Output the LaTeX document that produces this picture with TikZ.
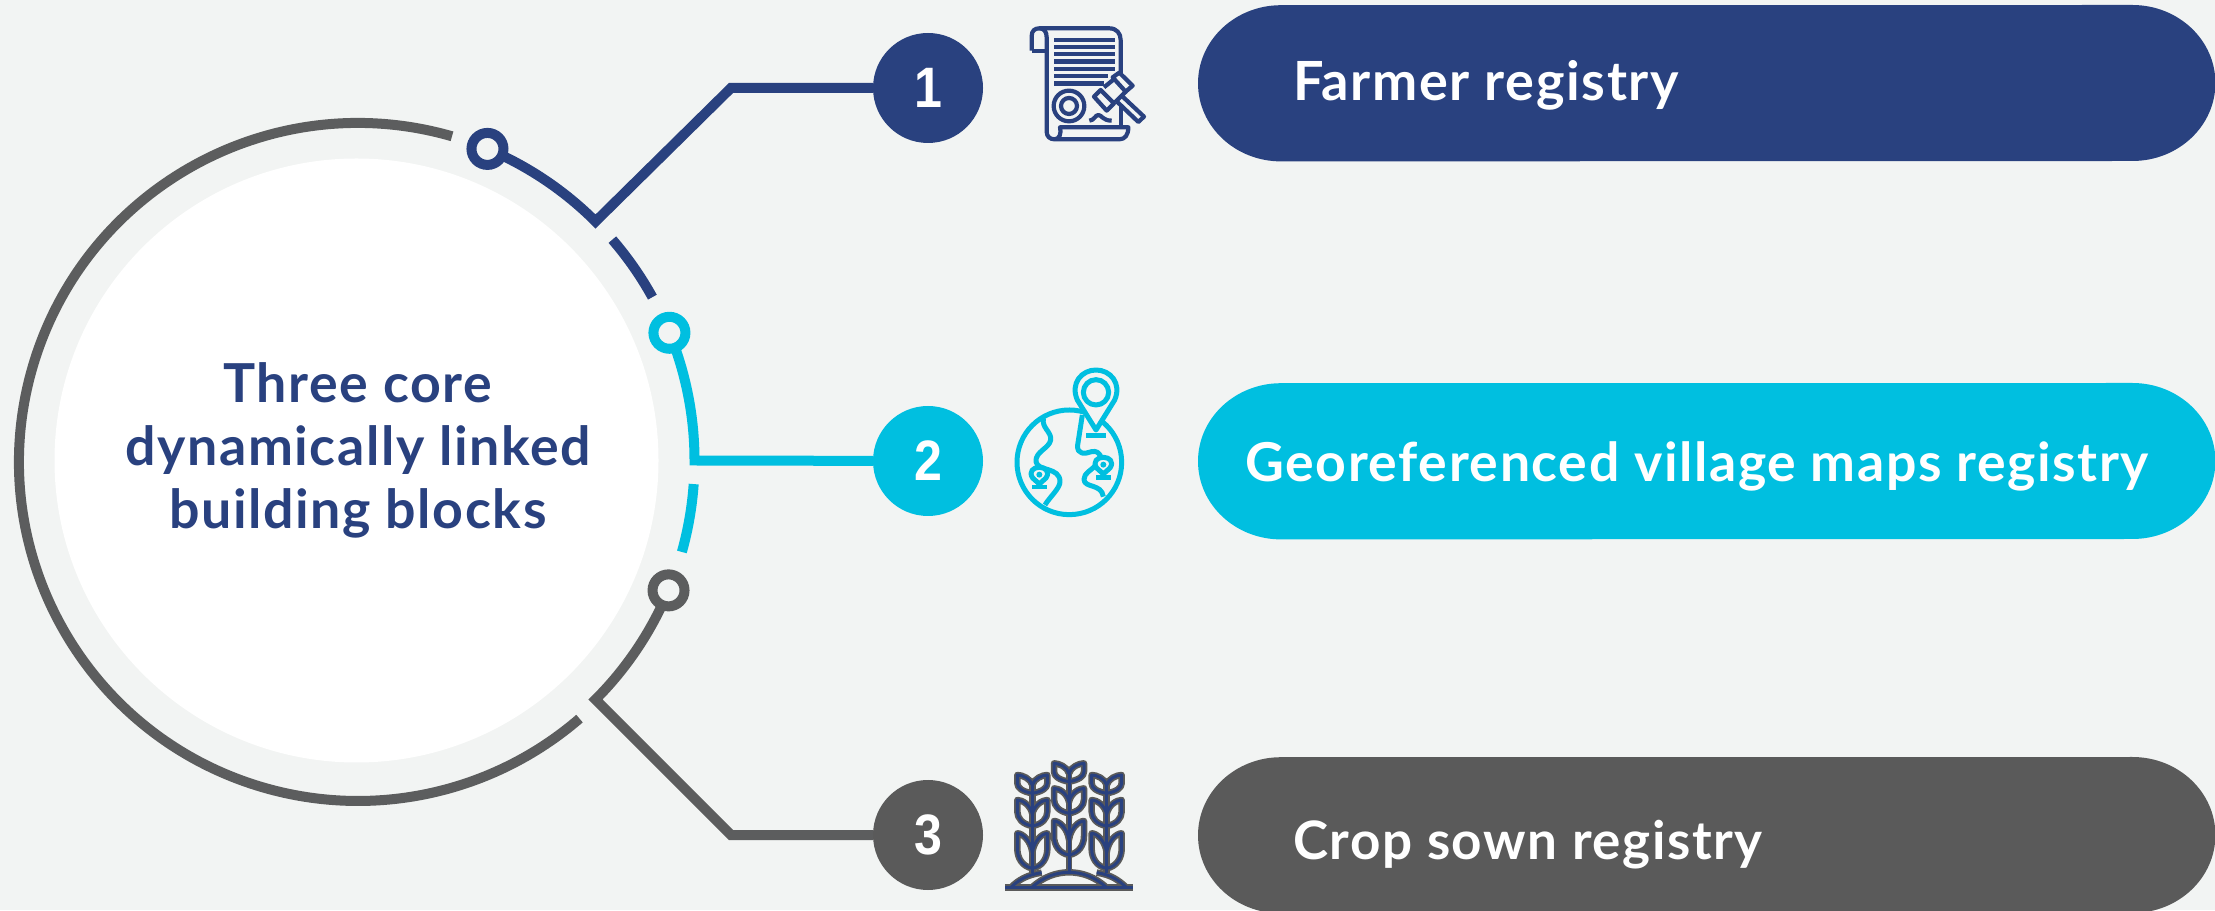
\documentclass[tikz,border=0pt]{standalone}
\usepackage{fontspec}
\usetikzlibrary{calc}
\setmainfont{Lato}
\newfontfamily\headfont[LetterSpace=3]{Lato}
\newfontfamily\numfont{Liberation Sans}
\definecolor{bgc}{HTML}{F2F4F3}
\definecolor{navy}{HTML}{29417F}
\definecolor{cyanc}{HTML}{00BFE0}
\definecolor{grayc}{HTML}{5A5A5A}
\definecolor{ringc}{HTML}{5C5D5E}
\pgfdeclarelayer{bgl}\pgfdeclarelayer{conn}
\pgfsetlayers{bgl,conn,main}
\tikzset{
  conn/.style={line width=10pt,miter limit=10},
  arcseg/.style={line width=10pt},
  ringdot/.style={circle,draw=#1,fill=bgc,line width=10pt,minimum size=32pt,inner sep=0pt},
  numdot/.style={circle,fill=#1,text=white,minimum size=110pt,inner sep=0pt,font=\numfont\bfseries\fontsize{57}{57}\selectfont},
  pillbox/.style={rectangle,minimum width=1017pt,minimum height=156pt,inner sep=0pt},
  pilltext/.style={anchor=base west,text=white,inner sep=0pt,font=\headfont\bfseries\fontsize{#1}{#1}\selectfont},
  icona/.style={draw=navy,line width=4.2pt,line join=round},
  iconb/.style={draw=cyanc,line width=5pt,line join=round},
}
% pill outline from a named box: colour, node name
\newcommand\pillfill[2]{%
  \fill[#1] (#2.west) arc[start angle=180,end angle=90,x radius=83,y radius=78]
    -- ($(#2.north east)+(-83,0)$) arc[start angle=90,end angle=-90,x radius=83,y radius=78]
    -- ($(#2.south west)+(83,0)$) arc[start angle=270,end angle=180,x radius=83,y radius=78] -- cycle;
}
% one pair of leaves: stalk x, bottom y, height
\newcommand\leafpair[3]{%
  (#1,#2) .. controls ({#1-30},{#2-5}) and ({#1-45},{#2-0.3*#3}) .. ({#1-45},{#2-0.55*#3})
  -- ({#1-45},{#2-#3}) .. controls ({#1-30},{#2-#3}) and ({#1-5},{#2-0.8*#3}) .. (#1,{#2-0.45*#3})
  .. controls ({#1+5},{#2-0.8*#3}) and ({#1+30},{#2-#3}) .. ({#1+45},{#2-#3})
  -- ({#1+45},{#2-0.55*#3}) .. controls ({#1+45},{#2-0.3*#3}) and ({#1+30},{#2-5}) .. (#1,#2)
}
\newcommand\cropicon[1]{%
  \draw[#1] \leafpair{157}{160}{55} \leafpair{157}{258}{78} \leafpair{157}{385}{105}
            \leafpair{267}{125}{55} \leafpair{267}{220}{75} \leafpair{267}{345}{102}
            \leafpair{380}{160}{55} \leafpair{380}{258}{78} \leafpair{380}{385}{105};
  \draw[#1] (157,135) -- (157,400) (267,100) -- (267,392) (380,135) -- (380,400);
  \draw[#1] (75,443) -- (460,443);
  \draw[#1] (155,443) .. controls (190,410) and (230,397) .. (267,397) .. controls (305,397) and (345,410) .. (380,443);
  \draw[#1] (92,443) .. controls (115,420) and (140,405) .. (185,398);
  \draw[#1] (440,443) .. controls (415,420) and (395,405) .. (350,398);
}
\begin{document}
\begin{tikzpicture}[x=1pt,y=1pt]
\clip (0,0) rectangle (2215,910);
\begin{pgfonlayer}{bgl}
  \fill[bgc] (0,0) rectangle (2215,910);
\end{pgfonlayer}
\coordinate (c) at (356.5,449.5);
\coordinate (cring) at (358,448);
% white disc and title
\node[circle,fill=white,minimum size=604pt,inner sep=0pt] (disc) at (c) {};
\node[align=center,text=navy,inner sep=0pt,font=\headfont\bfseries\fontsize{53.7}{63}\selectfont] (title) at (358,460)
  {Three core\\dynamically linked\\building blocks};
% number dots
\node[numdot=navy] (num1) at (928,822) {\scalebox{.88}[1]{1}};
\node[numdot=cyanc] (num2) at (928,449) {\scalebox{.88}[1]{2}};
\node[numdot=grayc] (num3) at (928,75) {\scalebox{.88}[1]{3}};
% ring dots
\node[ringdot=navy] (dot1) at ($(c)+(67.2:338)$) {};
\node[ringdot=cyanc] (dot2) at ($(c)+(22.2:338)$) {};
\node[ringdot=ringc] (dot3) at ($(c)+(-22.6:338)$) {};
\coordinate (knee1) at (731,822);
\coordinate (knee3) at (731,75);
\begin{pgfonlayer}{conn}
  \draw[ringc,arcseg] ($(cring)+(73.9:339)$) arc[start angle=73.9,end angle=310.8,radius=339];
  \draw[navy,conn] (dot1.center) arc[start angle=67.2,end angle=45,radius=338] -- (knee1) -- (num1);
  \draw[navy,arcseg] ($(c)+(40.8:338)$) arc[start angle=40.8,end angle=28.9,radius=338];
  \draw[cyanc,conn] (dot2.center) arc[start angle=22.2,end angle=0,radius=338] -- (num2);
  \draw[cyanc,arcseg] ($(c)+(-4:338)$) arc[start angle=-4,end angle=-15.7,radius=338];
  \draw[ringc,conn] (dot3.center) arc[start angle=-22.6,end angle=-45,radius=338] -- (knee3) -- (num3);
\end{pgfonlayer}
% pills
\node[pillbox,anchor=north west] (pill1) at (1198,905) {};
\node[pillbox,anchor=north west] (pill2) at (1198,527) {};
\node[pillbox,anchor=north west] (pill3) at (1198,153) {};
\pillfill{navy}{pill1}
\pillfill{cyanc}{pill2}
\pillfill{grayc}{pill3}
\node[pilltext=54] (t1) at (1293,809) {Farmer registry};
\node[pilltext=53.6] (t2) at (1245,428) {Georeferenced village maps registry};
\node[pilltext=53] (t3) at (1293,51) {Crop sown registry};
% icon 1
\begin{scope}[shift={(980,910)},x=0.3333pt,y=-0.3333pt]
  \draw[icona] (155,152) -- (155,108) .. controls (155,92) and (165,85) .. (178,85) -- (388,85)
     .. controls (410,85) and (422,100) .. (422,120) -- (422,226);
  \draw[icona] (178,85) .. controls (192,85) and (200,95) .. (200,112) -- (200,395)
     .. controls (200,410) and (210,418) .. (224,418) -- (418,418)
     .. controls (435,418) and (445,405) .. (445,382) -- (240,382)
     .. controls (245,400) and (238,418) .. (224,418);
  \draw[icona] (155,152) -- (200,152);
  \draw[icona] (422,318) -- (422,382);
  \foreach \yy/\xe in {120/405,141/405,162/405,185/405,207/405,228/384,251/372}
    \fill[navy] (222,\yy-6.5) rectangle (\xe,\yy+6.5);
  \draw[icona] (267,318) circle[radius=46];
  \draw[icona] (267,318) circle[radius=24];
  \draw[icona] (328,362) .. controls (342,362) and (346,345) .. (355,345) .. controls (365,345) and (368,362) .. (395,362);
  \draw[icona] (398,232) -- (418,218) -- (458,257) -- (437,275) -- cycle;
  \draw[icona] (342,290) -- (362,270) -- (402,310) -- (380,332) -- cycle;
  \draw[icona] (372,262) -- (404,236) (406,306) -- (438,274);
  \draw[icona] (428,290) -- (492,350) -- (475,366) -- (412,306);
\end{scope}
% icon 2
\begin{scope}[shift={(980,560)},x=0.3333pt,y=-0.3333pt]
  \draw[iconb] (268,337) circle[radius=157];
  \draw[iconb] (190,205) .. controls (185,235) and (215,245) .. (212,270) .. controls (208,295) and (165,305) .. (168,335)
     .. controls (172,365) and (240,350) .. (240,395) .. controls (240,415) and (210,440) .. (195,465);
  \draw[iconb] (307,195) -- (293,285) .. controls (290,315) and (315,312) .. (335,305) .. controls (350,302) and (355,308) .. (362,318);
  \draw[iconb] (350,342) .. controls (335,362) and (312,368) .. (312,388) .. controls (312,415) and (365,400) .. (370,440);
  \draw[iconb,fill=bgc] (348,240) -- (292,150) .. controls (270,100) and (305,60) .. (348,60)
     .. controls (391,60) and (426,100) .. (404,150) -- cycle;
  \draw[iconb] (348,127) circle[radius=38];
  \fill[cyanc] (319,248) rectangle (378,263);
  \draw[iconb,fill=bgc] (178,402) -- (158,384) .. controls (145,365) and (160,352) .. (178,352)
     .. controls (196,352) and (211,365) .. (198,384) -- cycle;
  \fill[cyanc] (178,374) circle[radius=9];
  \fill[cyanc] (156,404) rectangle (201,417);
  \draw[iconb,fill=bgc] (370,372) -- (350,354) .. controls (337,335) and (352,322) .. (370,322)
     .. controls (388,322) and (403,335) .. (390,354) -- cycle;
  \fill[cyanc] (370,344) circle[radius=9];
  \fill[cyanc] (348,376) rectangle (393,389);
\end{scope}
% icon 3
\begin{scope}[shift={(980,170)},x=0.3333pt,y=-0.3333pt]
  \cropicon{draw=grayc,line width=6.5pt,line join=round}
  \cropicon{draw=navy,line width=3pt,line join=round}
\end{scope}
\end{tikzpicture}
\end{document}
